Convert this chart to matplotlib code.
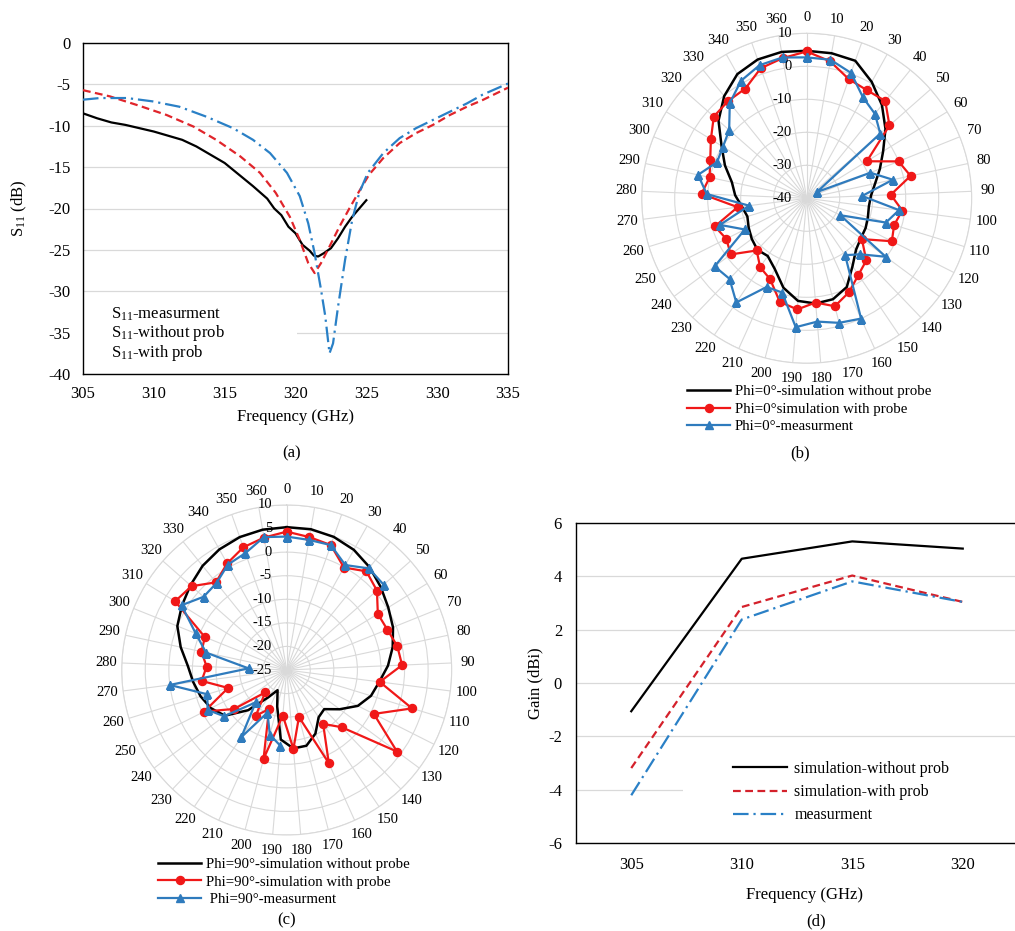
import numpy as np
import matplotlib
matplotlib.use("Agg")
import matplotlib.pyplot as plt
from matplotlib.lines import Line2D
from matplotlib.patches import Rectangle

plt.rcParams['font.family'] = ['Liberation Serif', 'DejaVu Serif']
plt.rcParams['mathtext.fontset'] = 'custom'
plt.rcParams['mathtext.rm'] = 'Liberation Serif'
plt.rcParams['mathtext.it'] = 'Liberation Serif:italic'
plt.rcParams['axes.unicode_minus'] = False

# ---------------- data: panel (a) S11 ----------------
a_freq_meas = [305, 306, 307, 308, 309, 310, 311, 312, 313, 314, 315, 316, 317, 318,
               318.5, 319, 319.5, 320, 320.5, 321, 321.3, 321.6, 322, 322.5, 323,
               323.5, 324, 324.5, 325]
a_s11_meas = [-8.5, -9.1, -9.6, -9.9, -10.3, -10.7, -11.2, -11.7, -12.5, -13.5, -14.5,
              -15.9, -17.3, -18.8, -20.0, -20.8, -22.2, -23.0, -24.4, -25.1, -25.7,
              -25.8, -25.4, -24.8, -23.6, -22.2, -21.0, -20.0, -19.0]
a_freq_noprob = [305, 306.9, 309, 310.9, 312.8, 314.4, 316.1, 317.5, 318.6, 319.6, 320.3,
                 320.9, 321.35, 321.8, 322.4, 323.1, 323.8, 324.5, 325.2, 326.2, 327.35,
                 328.5, 329.7, 330.9, 332.1, 333.2, 335]
a_s11_noprob = [-5.7, -6.45, -7.6, -8.7, -10.1, -11.7, -13.7, -15.7, -18.1, -21.0, -23.8,
                -26.6, -27.8, -26.6, -24.6, -22.2, -20.0, -17.9, -15.9, -13.9, -12.1,
                -10.9, -9.9, -8.7, -7.7, -6.9, -5.4]
a_freq_prob = [305, 306.2, 308.1, 309.9, 311.8, 313.7, 315.6, 317, 318.2, 319.4, 320.3,
               320.9, 321.35, 321.8, 322.1, 322.4, 322.65, 323, 323.5, 324, 324.5, 325.1,
               326.2, 327.35, 328.5, 329.7, 330.9, 332.1, 333.2, 335]
a_s11_prob = [-6.85, -6.65, -6.65, -7.05, -7.7, -8.9, -10.3, -11.7, -13.3, -15.7, -18.5,
              -21.8, -25.4, -29.8, -33.0, -37.5, -36.3, -31.9, -26.2, -21.4, -18.1, -15.7,
              -13.3, -11.5, -10.3, -9.3, -8.3, -7.3, -6.25, -4.9]
a_labels = ['S$_{11}$-measurment', 'S$_{11}$-without prob', 'S$_{11}$-with prob']

# ---------------- data: polar panels (b), (c) ----------------
angle_labels = [str(v) for v in range(0, 361, 10)]

b_black = [4.7, 4.6, 4.2, 0.4, -3.7, -8.2, -12.8, -16.1, -18.8, -20.5, -21.0, -20.6, -20.0,
           -19.6, -18.4, -15.2, -10.5, -8.4, -8.0, -8.8, -12.0, -16.5, -18.9, -18.4, -19.3,
           -20.3, -21.2, -20.2, -18.3, -16.8, -13.3, -9.7, -4.4, -0.2, 3.1, 4.6, 5.0]
b_red = [4.5, 2.1, -1.7, -2.5, -2.1, -6.6, -18.6, -10.0, -7.8, -14.5, -10.8, -12.3, -11.1,
         -19.2, -13.9, -12.0, -8.8, -6.2, -8.3, -6.2, -7.6, -13.1, -14.8, -18.1, -11.4,
         -12.7, -10.9, -18.9, -8.1, -9.9, -8.5, -5.9, -2.5, -2.1, -1.9, 1.8, 3.1]
b_blue = [2.7, 2.6, 0.3, -5.0, -7.1, -10.3, -36.4, -19.2, -13.3, -23.2, -11.8, -14.9, -28.6,
          -10.2, -16.5, -19.2, 0.0, -1.0, -2.5, -0.8, -10.5, -10.5, -1.9, -6.2, -5.3, -19.0,
          -12.5, -22.4, -9.7, -6.3, -10.7, -10.2, -8.7, -2.9, 0.8, 2.8, 3.3]
b_labels = ['Phi=0°-simulation without probe', 'Phi=0°simulation with probe',
            'Phi=0°-measurment']

c_black = [5.3, 5.3, 4.95, 4.2, 3.0, 1.6, 0.3, -0.7, -2.0, -3.5, -5.2, -6.3, -8.1, -11.0,
           -13.5, -12.9, -10.2, -8.4, -8.3, -10.2, -17.0, -20.3, -18.0, -13.2, -8.7, -7.0,
           -5.9, -5.0, -4.0, -2.0, 0.0, 1.1, 2.2, 3.4, 4.3, 4.9, 5.2]
c_red = [4.35, 3.6, 3.1, -0.1, 1.9, 0.5, -2.3, -2.0, -1.0, -0.5, -5.1, 2.8, -4.3, 4.1, -8.2,
         -11.2, -3.3, -14.7, -8.2, -15.3, -5.5, -15.9, -13.3, -18.4, -11.1, -5.4, -12.0,
         -6.8, -8.0, -6.5, -6.3, 2.8, 1.9, -1.1, 0.9, 2.6, 3.5]
c_blue = [3.3, 3.0, 3.1, 0.5, 2.7, 2.4,
          np.nan, np.nan, np.nan, np.nan, np.nan, np.nan, np.nan, np.nan, np.nan, np.nan,
          np.nan, np.nan, np.nan,
          -8.9, -10.8, -15.1, -7.8, -15.5, -8.5, -6.2, -7.4, 0.0, -16.9, -7.5, -4.2, 1.2,
          -1.5, -1.3, 0.6, 1.3, 3.6]
c_labels = ['Phi=90°-simulation without probe', 'Phi=90°-simulation with probe',
            ' Phi=90°-measurment']

# ---------------- data: panel (d) gain ----------------
d_freq = [305, 310, 315, 320]
d_gain_noprob = [-1.06, 4.66, 5.31, 5.04]
d_gain_prob = [-3.19, 2.85, 4.03, 3.04]
d_gain_meas = [-4.21, 2.38, 3.81, 3.04]
d_labels = ['simulation-without prob', 'simulation-with prob', 'measurment']

# ---------------- styling ----------------
W, H = 1015, 931
fig = plt.figure(figsize=(W / 100, H / 100), dpi=100)
GRID = '#d9d9d9'
RED_L = '#e0252b'
BLUE_L = '#2a80c6'
RED_P = '#f01818'
BLUE_P = '#2f7bbd'
FS = 12


def rect(l, t, r, b):
    return [l / W, 1 - b / H, (r - l) / W, (b - t) / H]


def fx(x):
    return x / W


def fy(y):
    return 1 - y / H


# ---------------- panel (a) ----------------
ax = fig.add_axes(rect(83, 43, 508, 374))
ax.plot(a_freq_meas, a_s11_meas, color='black', lw=1.6, zorder=3)
ax.plot(a_freq_noprob, a_s11_noprob, color=RED_L, lw=1.6, dashes=(3.5, 2.0), zorder=3)
ax.plot(a_freq_prob, a_s11_prob, color=BLUE_L, lw=1.6, dashes=(7, 2.2, 1, 2.2), zorder=3)
ax.set_xlim(305, 335)
ax.set_ylim(-40, 0)
ax.set_xticks(np.arange(305, 336, 5))
ax.set_yticks(np.arange(-40, 1, 5))
ax.yaxis.grid(True, color=GRID, lw=0.9)
ax.set_axisbelow(True)
ax.tick_params(length=0, labelsize=FS)
ax.tick_params(axis='x', pad=9)
ax.tick_params(axis='y', pad=9)
for s in ax.spines.values():
    s.set_color('black')
    s.set_linewidth(1.0)
ax.set_xlabel('Frequency (GHz)', fontsize=FS, va='center')
ax.xaxis.set_label_coords(0.5, -0.13)
ax.set_ylabel('S$_{11}$ (dB)', fontsize=FS, va='center')
ax.yaxis.set_label_coords(-0.15, 0.5)
ax.add_patch(Rectangle((0.003, 0.004), 0.50, 0.21, transform=ax.transAxes,
                       facecolor='white', edgecolor='none', zorder=1.5))
h_a = [Line2D([], [], lw=0, color='none') for _ in a_labels]
ax.legend(h_a, a_labels, loc='center left', bbox_to_anchor=(0.066, 0.121),
          frameon=False, handlelength=0, handletextpad=0, borderpad=0,
          borderaxespad=0, labelspacing=0.0, fontsize=FS)
fig.text(fx(292), fy(453), '(a)', ha='center', va='center', fontsize=FS)


# ---------------- polar helper ----------------
def radar(box, rmin, rings, black, red, blue, labels, leg_xy, tag_xy, tag):
    pax = fig.add_axes(rect(*box), projection='polar')
    pax.set_theta_zero_location('N')
    pax.set_theta_direction(-1)
    n = len(angle_labels)
    theta = np.arange(n) * 2 * np.pi / n
    th = np.append(theta, 2 * np.pi)
    pax.set_ylim(rmin, rings[-1])
    pax.set_yticks(rings)
    pax.set_yticklabels([])
    pax.set_xticks(theta)
    pax.set_xticklabels(angle_labels)
    pax.tick_params(axis='x', pad=1, labelsize=10.5)
    pax.xaxis.grid(True, color=GRID, lw=0.8)
    pax.yaxis.grid(True, color=GRID, lw=0.8)
    pax.spines['polar'].set_color(GRID)
    pax.spines['polar'].set_linewidth(0.8)
    close = lambda v: np.append(np.asarray(v, dtype=float), v[0])
    l1, = pax.plot(th, close(black), color='black', lw=1.8, zorder=3)
    l2, = pax.plot(th, close(red), color=RED_P, lw=1.6, marker='o', ms=5.8, zorder=4)
    l3, = pax.plot(th, close(blue), color=BLUE_P, lw=1.6, marker='^', ms=6.3, zorder=5)
    for v in rings:
        pax.annotate(str(v), xy=(0, v), xytext=(-10.5, 0), textcoords='offset points',
                     ha='right', va='center', fontsize=10.5, zorder=6)
    fig.legend([l1, l2, l3], labels, loc='center left',
               bbox_to_anchor=(fx(leg_xy[0]), fy(leg_xy[1])),
               bbox_transform=fig.transFigure, frameon=False, borderpad=0,
               borderaxespad=0, handlelength=2.9, handletextpad=0.3,
               labelspacing=0.28, fontsize=10.7, numpoints=1)
    fig.text(fx(tag_xy[0]), fy(tag_xy[1]), tag, ha='center', va='center', fontsize=FS)
    return pax


radar((641.7, 33.3, 971.7, 363.3), -40, [-40, -30, -20, -10, 0, 10],
      b_black, b_red, b_blue, b_labels, (687, 409), (800, 453), '(b)')
radar((121.7, 505.0, 451.7, 835.0), -25, [-25, -20, -15, -10, -5, 0, 5, 10],
      c_black, c_red, c_blue, c_labels, (158, 882), (287, 920), '(c)')

# ---------------- panel (d) ----------------
axd = fig.add_axes(rect(576, 523, 1018, 843))
axd.plot(d_freq, d_gain_noprob, color='black', lw=1.6, label=d_labels[0], zorder=3)
axd.plot(d_freq, d_gain_prob, color='#d4212b', lw=1.6, dashes=(3.5, 2.0),
         label=d_labels[1], zorder=3)
axd.plot(d_freq, d_gain_meas, color=BLUE_L, lw=1.6, dashes=(7, 2.2, 1, 2.2),
         label=d_labels[2], zorder=3)
axd.set_xlim(302.5, 322.5)
axd.set_ylim(-6, 6)
axd.set_xticks(d_freq)
axd.set_yticks(np.arange(-6, 7, 2))
axd.yaxis.grid(True, color=GRID, lw=0.9)
axd.set_axisbelow(True)
axd.tick_params(length=0, labelsize=FS)
axd.tick_params(axis='x', pad=10)
axd.tick_params(axis='y', pad=10)
for s in axd.spines.values():
    s.set_color('black')
    s.set_linewidth(1.0)
axd.set_xlabel('Frequency (GHz)', fontsize=FS, va='center')
axd.xaxis.set_label_coords(0.518, -0.163)
axd.set_ylabel('Gain (dBi)', fontsize=FS, va='center')
axd.yaxis.set_label_coords(-0.093, 0.5)
axd.add_patch(Rectangle((0.243, 0.03), 0.757, 0.27, transform=axd.transAxes,
                        facecolor='white', edgecolor='none', zorder=1.5))
axd.legend(loc='center left', bbox_to_anchor=(0.355, 0.159), frameon=False,
           borderpad=0, borderaxespad=0, handlelength=3.4, handletextpad=0.45,
           labelspacing=0.46, fontsize=11.5)
fig.text(fx(816), fy(921), '(d)', ha='center', va='center', fontsize=FS)

fig.savefig('out.png', dpi=100)
